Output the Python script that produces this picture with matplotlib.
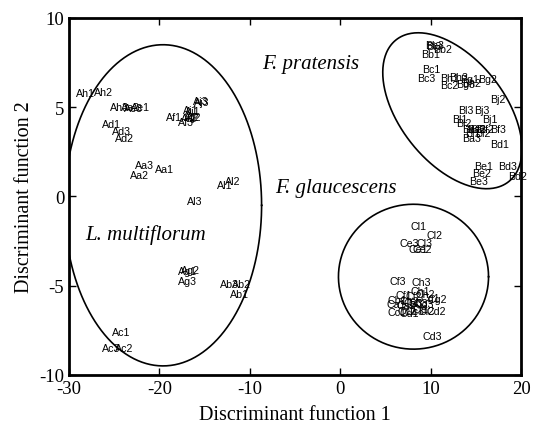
import numpy as np
import matplotlib
matplotlib.use("Agg")
import matplotlib.pyplot as plt

# Sample labels and their discriminant scores
labels_a = ["Ah1", "Ah2", "Ah3", "Ae2", "Ae3", "Ae1", "Ad1", "Ad3", "Ad2",
            "Aa3", "Aa1", "Aa2", "Af1", "Ai1", "Aj1", "Ai2", "Af2", "Aj2",
            "Af3", "Ai3", "Aj3", "Al2", "Al1", "Al3", "Ag2", "Ag1", "Ag3",
            "Ab3", "Ab2", "Ab1", "Ac1", "Ac3", "Ac2"]
df1_a = [-29.2, -27.2, -25.5, -24.3, -23.9, -23.2, -26.3, -25.3, -24.9,
         -22.7, -20.5, -23.3, -19.3, -17.4, -17.2, -17.3, -17.6, -17.1,
         -18.0, -16.3, -16.2, -12.8, -13.6, -16.9, -17.6, -18.0, -18.0,
         -13.3, -12.0, -12.2, -25.2, -26.3, -24.9]
df2_a = [5.77, 5.84, 5.00, 5.00, 4.96, 5.00, 4.03, 3.66, 3.25,
         1.74, 1.55, 1.18, 4.44, 4.87, 4.80, 4.44, 4.40, 4.46,
         4.16, 5.32, 5.28, 0.86, 0.62, -0.26, -4.13, -4.17, -4.74,
         -4.93, -4.93, -5.49, -7.58, -8.48, -8.48]

labels_b = ["Bb3", "Bi3", "Bb2", "Bb1", "Bc1", "Bc3", "Bh1", "Bh3", "Bg1",
            "Bg2", "Bc2", "Bg3", "Bh2", "Bj2", "Bl3", "Bj3", "Bl1", "Bl2",
            "Bj1", "Ba1", "Ba2", "Bf1", "Bf2", "Bf3", "Bi1", "Bi2", "Ba3",
            "Bd1", "Be1", "Bd3", "Be2", "Bd2", "Be3"]
df1_b = [9.4, 9.5, 10.3, 8.9, 9.1, 8.5, 11.0, 12.0, 13.3,
         15.2, 11.1, 12.8, 13.5, 16.6, 13.0, 14.8, 12.4, 12.8,
         15.7, 13.5, 14.0, 14.4, 15.3, 16.6, 13.8, 14.9, 13.5,
         16.6, 14.8, 17.5, 14.6, 18.6, 14.2]
df2_b = [8.46, 8.45, 8.25, 7.96, 7.15, 6.65, 6.65, 6.70, 6.60,
         6.60, 6.27, 6.30, 6.35, 5.47, 4.87, 4.87, 4.31, 4.09,
         4.35, 3.75, 3.75, 3.75, 3.75, 3.75, 3.55, 3.55, 3.29,
         2.91, 1.70, 1.70, 1.29, 1.14, 0.86]

labels_c = ["Cl1", "Cl2", "Ce3", "Cl3", "Ce1", "Ce2", "Cf3", "Ch3", "Ch1",
            "Ch2", "Cf1", "Cf2", "Cg1", "Cg2", "Cb1", "Cb2", "Cb3", "Ca1",
            "Ca2", "Ca3", "Cg3", "Cc1", "Cc2", "Cc3", "Ci1", "Ci2", "Cd2",
            "Cd1", "Cd3"]
df1_c = [7.8, 9.5, 6.5, 8.4, 7.5, 8.0, 5.5, 7.9, 7.8,
         8.3, 6.1, 7.2, 8.9, 9.6, 5.2, 6.6, 7.5, 5.1,
         6.2, 7.0, 8.2, 5.2, 6.3, 7.2, 8.0, 8.6, 9.5,
         6.6, 9.1]
df2_c = [-1.66, -2.16, -2.59, -2.59, -2.93, -2.93, -4.74, -4.80, -5.30,
         -5.45, -5.50, -5.60, -5.70, -5.75, -5.80, -5.85, -5.95, -6.05,
         -6.10, -6.00, -6.05, -6.50, -6.45, -6.40, -6.30, -6.45, -6.40,
         -6.55, -7.80]

# Group ellipses: centre, covariance-like shape (sxx, sxy, syy)
ell_center = [(-19.6, -0.5), (12.4, 4.8), (8.1, -4.5)]
ell_shape = [(10.9 ** 2, 0.0, 9.0 ** 2), (7.7 ** 2, -16.5, 4.37 ** 2), (8.3 ** 2, 0.0, 4.06 ** 2)]

species = ["L. multiflorum", "F. pratensis", "F. glaucescens"]
species_pos = [(-28.2, -2.1), (-8.6, 7.45), (-7.2, 0.5)]

serif = "Liberation Serif"
sans = "Liberation Sans"
plt.rcParams["axes.unicode_minus"] = False

fig = plt.figure(figsize=(5.35, 4.31), dpi=100)
ax = fig.add_axes([0.129, 0.128, 0.845, 0.828])

for labs, xs, ys in [(labels_a, df1_a, df2_a), (labels_b, df1_b, df2_b), (labels_c, df1_c, df2_c)]:
    for lab, x, y in zip(labs, xs, ys):
        ax.text(x, y, lab, ha="left", va="center", fontsize=7.7, family=sans)

t = np.linspace(0, 2 * np.pi, 300)
for (cx, cy), (sxx, sxy, syy) in zip(ell_center, ell_shape):
    L = np.linalg.cholesky(np.array([[sxx, sxy], [sxy, syy]]))
    pts = L @ np.vstack([np.cos(t), np.sin(t)])
    ax.plot(cx + pts[0], cy + pts[1], color="black", lw=1.2)

for name, (x, y) in zip(species, species_pos):
    ax.text(x, y, name, ha="left", va="center", fontsize=15, style="italic", family=serif)

ax.set_xlim(-30, 20)
ax.set_ylim(-10, 10)
ax.set_xticks([-30, -20, -10, 0, 10, 20])
ax.set_yticks([-10, -5, 0, 5, 10])
ax.tick_params(direction="in", length=5, width=1, top=True, right=True, labelsize=13.5)
for lbl in ax.get_xticklabels() + ax.get_yticklabels():
    lbl.set_family(serif)
for s in ax.spines.values():
    s.set_linewidth(2)

ax.set_xlabel("Discriminant function 1", fontsize=14.5, family=serif, labelpad=6)
ax.set_ylabel("Discriminant function 2", fontsize=14.5, family=serif, labelpad=4)

fig.savefig("out.png", dpi=100)
